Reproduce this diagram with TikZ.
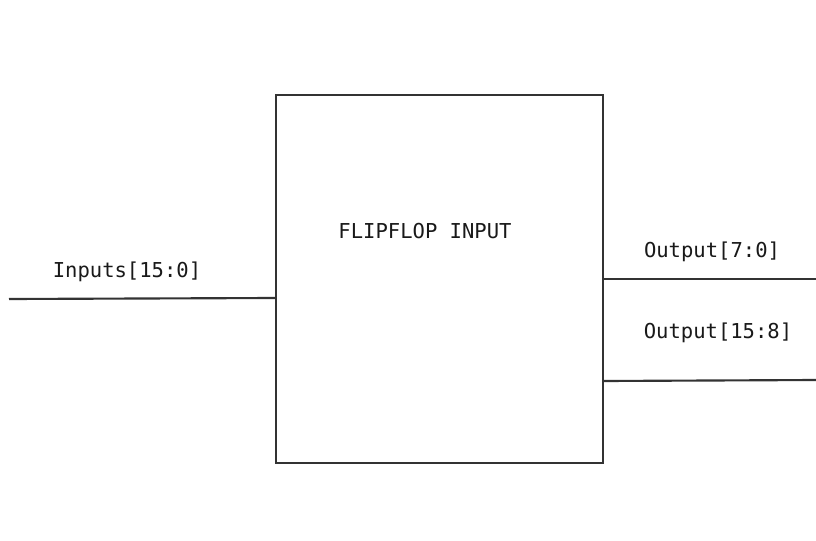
\documentclass[tikz,border=0pt]{standalone}
\usepackage{fontspec}
\setmonofont{DejaVu Sans Mono}
\tikzset{
    wire/.style={line width=1.6pt,color=black!80},
    label/.style={font=\ttfamily\fontsize{15.4}{17}\selectfont,text=black!90}
}
\begin{document}
\begin{tikzpicture}[x=0.75pt,y=-0.75pt]
    \useasboundingbox (0,0) rectangle (816,541);
    \node[wire,draw,minimum width=327*0.75pt,minimum height=368*0.75pt,inner sep=0pt]
          (ff) at (439.5,279) {};
    \node[label] (title) at (425,231) {FLIPFLOP INPUT};
    \coordinate (inL) at (9,299);
    \coordinate (inR) at (ff.west |- 0,298);
    \draw[wire] (inL) -- (inR);
    \node[label] (inlbl) at (127,271.5) {Inputs[15:0]};
    \coordinate (oa) at (ff.east |- 0,279);
    \coordinate (oaR) at (816,279);
    \draw[wire] (oa) -- (oaR);
    \node[label] (oalbl) at (712,251.5) {Output[7:0]};
    \coordinate (ob) at (ff.east |- 0,381);
    \coordinate (obR) at (816,380);
    \draw[wire] (ob) -- (obR);
    \node[label] (oblbl) at (718,332.5) {Output[15:8]};
\end{tikzpicture}
\end{document}
